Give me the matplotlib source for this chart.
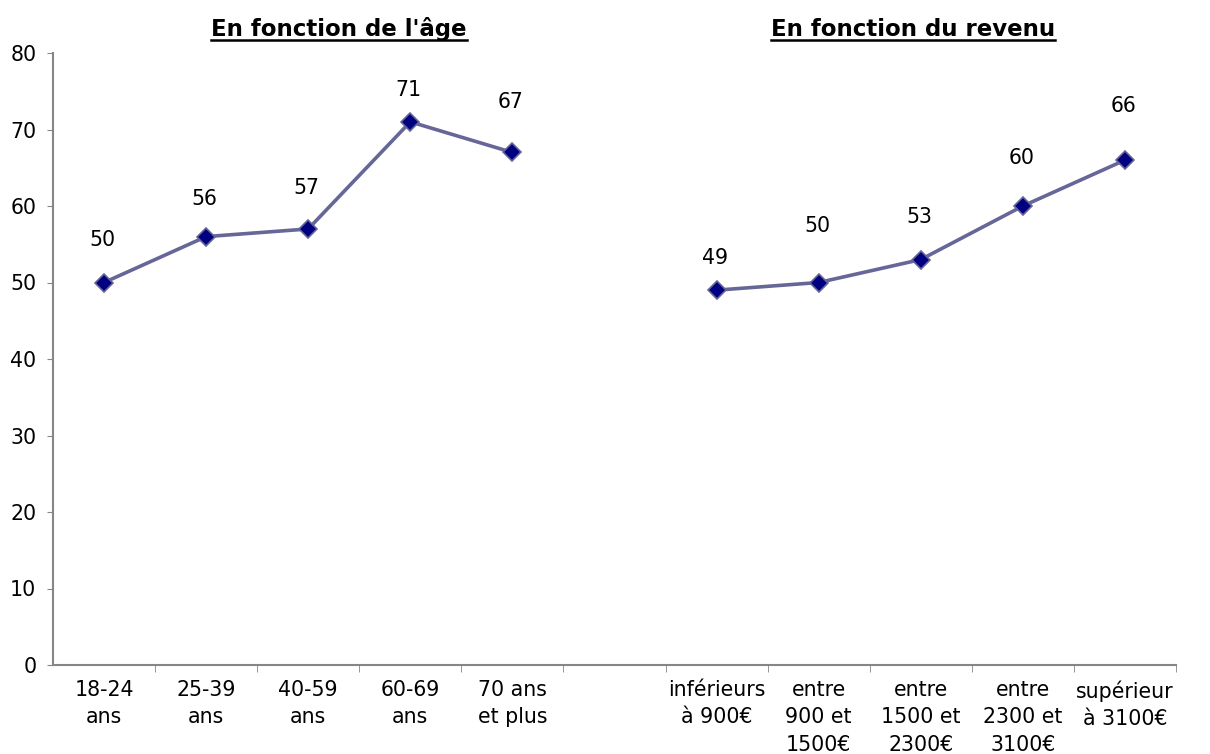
import matplotlib
matplotlib.use("Agg")
import matplotlib.pyplot as plt

age_labels = ["18-24\nans", "25-39\nans", "40-59\nans", "60-69\nans", "70 ans\net plus"]
age_values = [50, 56, 57, 71, 67]
rev_labels = ["inférieurs\nà 900€", "entre\n900 et\n1500€", "entre\n1500 et\n2300€",
              "entre\n2300 et\n3100€", "supérieur\nà 3100€"]
rev_values = [49, 50, 53, 60, 66]
title_age = "En fonction de l'âge"
title_rev = "En fonction du revenu"

# layout: vertical offset (pixels) of each value label above its marker
age_label_offsets = [42, 38, 41, 32, 50]
rev_label_offsets = [32, 56, 43, 48, 54]

plt.rcParams['font.family'] = ['DejaVu Sans']
fig = plt.figure(figsize=(12.1, 7.54), dpi=100)
ax = fig.add_axes([53/1210, 1-665/754, (1176-53)/1210, (665-53)/754])

age_x = list(range(len(age_values)))
rev_x = [len(age_values) + 1 + i for i in range(len(rev_values))]

fs = 14.8
line_col = "#666699"
mk_col = "#000080"
for xs, vs, offs in [(age_x, age_values, age_label_offsets),
                     (rev_x, rev_values, rev_label_offsets)]:
    ax.plot(xs, vs, color=line_col, lw=2.6, marker='D', markersize=9.5,
            markerfacecolor=mk_col, markeredgecolor=line_col, markeredgewidth=1.2, zorder=3)
    for x, v, o in zip(xs, vs, offs):
        ax.annotate(str(v), (x, v), xytext=(-1, o * 0.72), textcoords='offset points',
                    ha='center', va='center', fontsize=fs, color='black')

n = len(age_values) + 1 + len(rev_values)
ax.set_xlim(-0.5, n - 0.5)
ax.set_ylim(0, 80)
ax.set_yticks(range(0, 81, 10))
ax.set_xticks(age_x + rev_x)
ax.set_xticklabels(age_labels + rev_labels, fontsize=fs, va='top', linespacing=1.45)
ax.set_xticks([i - 0.5 for i in range(1, n + 1)], minor=True)
ax.tick_params(axis='x', which='major', length=0, pad=11)
ax.tick_params(axis='x', which='minor', length=5, color='#868686', direction='out')
ax.tick_params(axis='y', length=4, color='#868686', labelsize=fs, pad=8)
for s in ['top', 'right']:
    ax.spines[s].set_visible(False)
for s in ['left', 'bottom']:
    ax.spines[s].set_color('#868686')
    ax.spines[s].set_linewidth(1.5)

# titles with underline
fig.canvas.draw()
renderer = fig.canvas.get_renderer()
for txt, cx in [(title_age, 339), (title_rev, 913)]:
    t = fig.text(cx/1210, 1-29/754, txt, ha='center', va='center', fontsize=16.5,
                 fontweight='bold')
    bb = t.get_window_extent(renderer=renderer)
    inv = fig.transFigure.inverted()
    (x0, y0), (x1, y1) = inv.transform([(bb.x0, bb.y0), (bb.x1, bb.y1)])
    yl = 1 - 40/754
    fig.add_artist(plt.Line2D([x0, x1], [yl, yl], color='black', lw=1.8,
                              transform=fig.transFigure))

fig.savefig("out.png", dpi=100, facecolor='white')
